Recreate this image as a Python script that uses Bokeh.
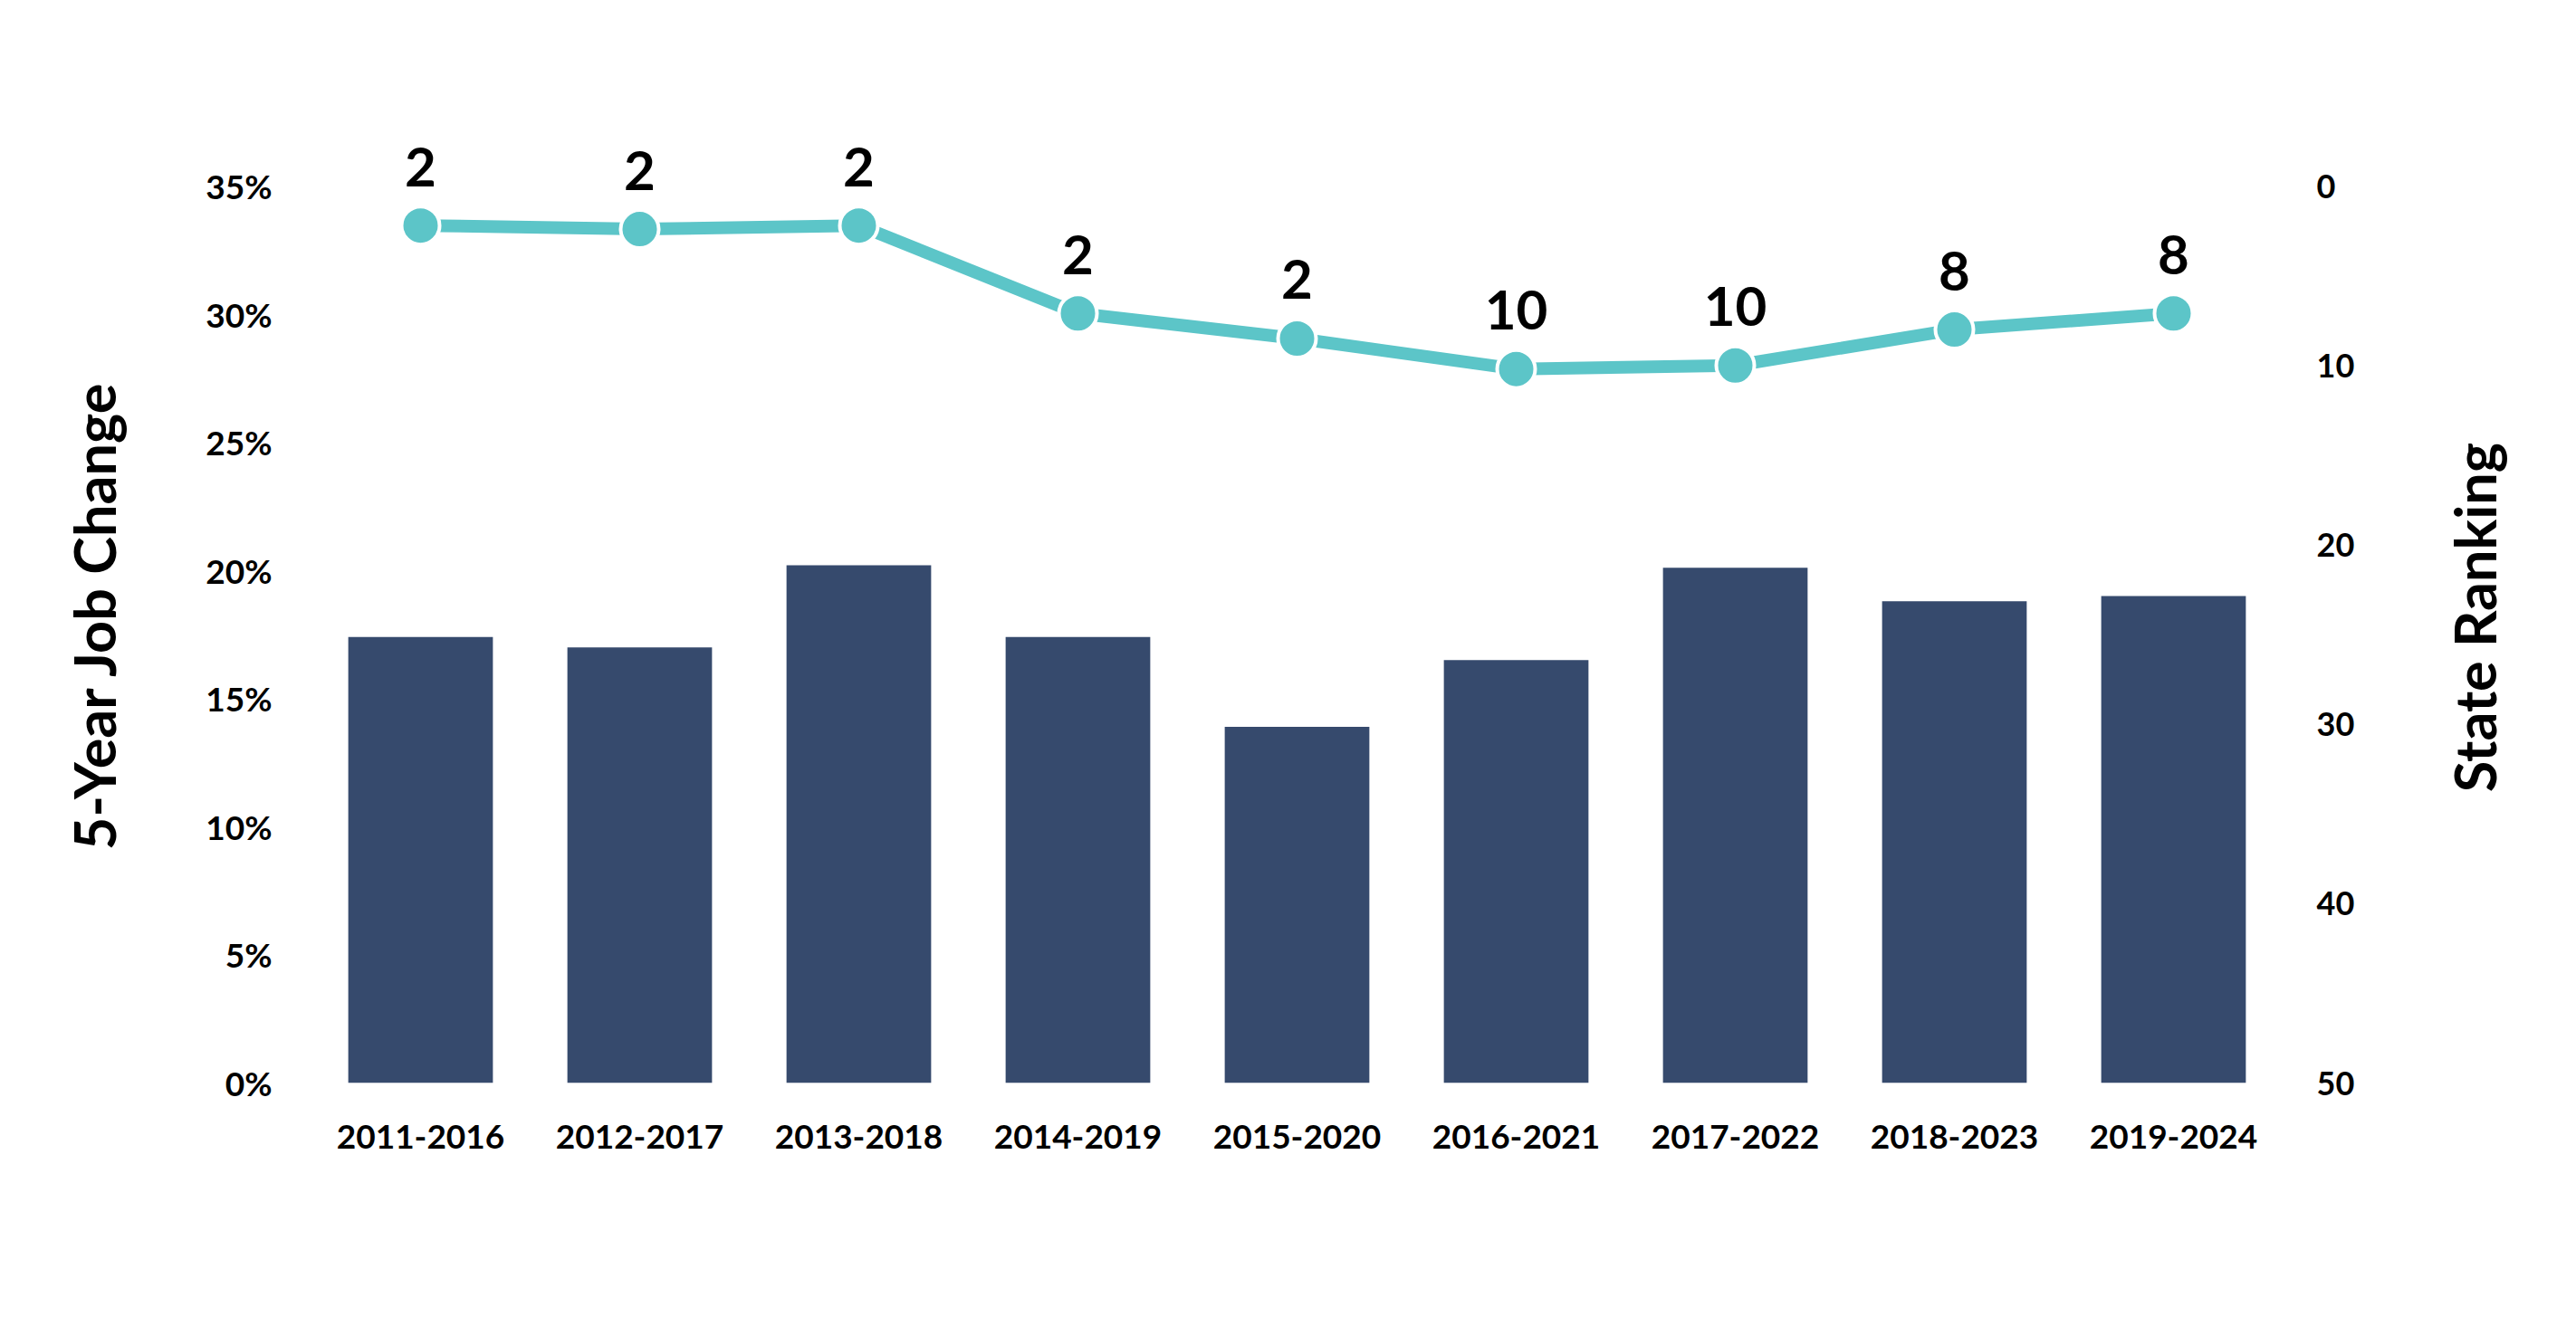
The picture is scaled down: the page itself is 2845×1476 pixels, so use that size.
import math
from bokeh.plotting import figure
from bokeh.layouts import row
from bokeh.models import Range1d, LinearAxis, FixedTicker, PrintfTickFormatter, ColumnDataSource
from bokeh.core.properties import value
from bokeh.embed import file_html
from bokeh.resources import INLINE

periods = ["2011-2016", "2012-2017", "2013-2018", "2014-2019", "2015-2020",
           "2016-2021", "2017-2022", "2018-2023", "2019-2024"]
job_change = [17.4, 17.0, 20.2, 17.4, 13.9, 16.5, 20.1, 18.8, 19.0]
rank_position = [2.2, 2.4, 2.2, 7.1, 8.5, 10.2, 10.0, 8.0, 7.1]
rank_labels = ["2", "2", "2", "2", "2", "10", "10", "8", "8"]
left_ticks = [0, 5, 10, 15, 20, 25, 30, 35]
right_ticks = [0, 10, 20, 30, 40, 50]
left_title = "5-Year Job Change"
right_title = "State Ranking"

BAR = "#364A6D"
LINE = "#5CC5C8"
FONT = "Lato"
H = 1460

p = figure(x_range=periods, y_range=Range1d(0, 38.0), width=2500, height=H,
           output_backend="svg", toolbar_location=None,
           min_border_left=163, min_border_right=159,
           min_border_top=120, min_border_bottom=264)
p.extra_y_ranges = {"rank": Range1d(50, -4.29)}
p.x_range.range_padding = 0
p.outline_line_color = None
p.xgrid.grid_line_color = None
p.ygrid.grid_line_color = None
p.background_fill_color = "white"
p.border_fill_color = "white"

bars = ColumnDataSource(dict(x=periods, top=job_change))
p.vbar(x="x", top="top", bottom=0, width=0.66, source=bars,
       fill_color=BAR, line_color=None)

line = ColumnDataSource(dict(x=periods, y=rank_position, t=rank_labels))
p.line(x="x", y="y", source=line, y_range_name="rank", line_color=LINE, line_width=14)
p.scatter(x="x", y="y", source=line, y_range_name="rank", size=42,
          fill_color=LINE, line_color="white", line_width=4)
p.text(x="x", y="y", text="t", source=line, y_range_name="rank",
       text_align="center", text_baseline="middle", y_offset=-65,
       text_font=value(FONT), text_font_size="60px", text_font_style="bold",
       text_color="black")

def style_axis(ax):
    ax.axis_line_color = None
    ax.major_tick_line_color = None
    ax.minor_tick_line_color = None
    ax.major_tick_out = 0
    ax.major_tick_in = 0
    ax.major_label_text_font = FONT
    ax.major_label_text_font_style = "bold"
    ax.major_label_text_color = "black"
    ax.major_label_text_font_size = "37px"

xa = p.xaxis[0]
style_axis(xa)
xa.major_label_standoff = 46

ya = p.yaxis[0]
style_axis(ya)
ya.ticker = FixedTicker(ticks=left_ticks)
ya.formatter = PrintfTickFormatter(format="%d%%")
ya.major_label_standoff = 43

ra = LinearAxis(y_range_name="rank", ticker=FixedTicker(ticks=right_ticks))
style_axis(ra)
ra.major_label_text_font_size = "36px"
ra.major_label_standoff = 37
p.add_layout(ra, "right")


def side_title(width, cx, cy, text):
    q = figure(width=width, height=H, x_range=Range1d(0, width), y_range=Range1d(0, H),
               x_axis_type=None, y_axis_type=None, min_border=0,
               output_backend="svg", toolbar_location=None)
    q.outline_line_color = None
    q.background_fill_color = "white"
    q.border_fill_color = "white"
    src = ColumnDataSource(dict(x=[cx], y=[H - cy], t=[text]))
    q.text(x="x", y="y", text="t", source=src, angle=math.pi / 2,
           text_align="center", text_baseline="middle",
           text_font=value(FONT), text_font_size="63px", text_font_style="bold",
           text_color="black")
    return q


q_left = side_title(180, 103, 759, left_title)
q_right = side_title(149, 2732 - 2680, 762, right_title)

layout = row(q_left, p, q_right, spacing=0)
open("out.html", "w").write(file_html(layout, INLINE))
